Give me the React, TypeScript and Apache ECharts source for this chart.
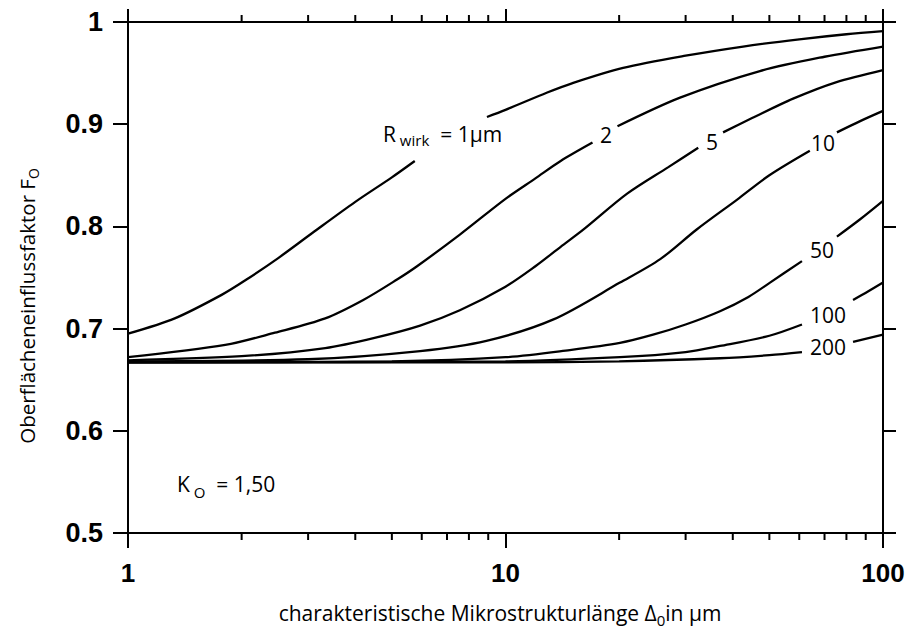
import React, { useEffect, useRef } from 'react';
import * as echarts from 'echarts';

// ---- data ----
const minorTickValues = [2, 3, 4, 5, 6, 7, 8, 9, 20, 30, 40, 50, 60, 70, 80, 90];

// R_wirk = 1 µm
const r1aX = [1, 1.33, 1.77, 2.06, 2.5, 3.09, 4, 5, 5.75];
const r1aY = [0.695, 0.71, 0.733, 0.748, 0.769, 0.794, 0.824, 0.848, 0.864];
const r1bX = [8.93, 10, 12.9, 15, 20.5, 30, 42.6, 60, 80, 100];
const r1bY = [0.907, 0.914, 0.931, 0.94, 0.955, 0.967, 0.976, 0.983, 0.988, 0.991];

// R_wirk = 2
const r2aX = [1, 1.81, 2.45, 3.33, 4.2, 5.16, 5.83, 7.57, 10, 12, 14, 17];
const r2aY = [0.672, 0.684, 0.696, 0.71, 0.728, 0.748, 0.761, 0.792, 0.827, 0.847, 0.864, 0.882];
const r2bX = [19.8, 29, 47.2, 70, 100];
const r2bY = [0.898, 0.926, 0.952, 0.966, 0.976];

// R_wirk = 5
const r5aX = [1, 2, 3.33, 4.5, 5.94, 7.57, 10, 12, 14, 16.1, 21, 27, 32.4];
const r5aY = [0.669, 0.673, 0.681, 0.691, 0.703, 0.718, 0.741, 0.761, 0.78, 0.797, 0.832, 0.858, 0.877];
const r5bX = [37.7, 45, 57.8, 75, 100];
const r5bY = [0.892, 0.906, 0.925, 0.941, 0.953];

// R_wirk = 10
const r10aX = [1, 3, 5.94, 8.9, 13.4, 20.1, 25.7, 32.1, 41, 50, 64];
const r10aY = [0.668, 0.67, 0.678, 0.688, 0.709, 0.745, 0.768, 0.797, 0.826, 0.85, 0.874];
const r10bX = [75.5, 87, 100];
const r10bY = [0.892, 0.903, 0.913];

// R_wirk = 50
const r50aX = [1, 5, 10, 14.8, 20.1, 24.6, 30, 37, 44, 50.2, 61];
const r50aY = [0.667, 0.668, 0.672, 0.679, 0.686, 0.694, 0.704, 0.717, 0.731, 0.745, 0.766];
const r50bX = [75.5, 87, 100];
const r50bY = [0.79, 0.807, 0.825];

// R_wirk = 100
const r100aX = [1, 10, 20.1, 30, 37, 50, 61];
const r100aY = [0.667, 0.668, 0.672, 0.677, 0.683, 0.693, 0.704];
const r100bX = [83.3, 91, 100];
const r100bY = [0.728, 0.736, 0.745];

// R_wirk = 200
const r200aX = [1, 10, 20, 37, 50, 61];
const r200aY = [0.667, 0.667, 0.668, 0.671, 0.674, 0.677];
const r200bX = [83.3, 100];
const r200bY = [0.687, 0.694];

const segments: [number[], number[]][] = [
  [r1aX, r1aY], [r1bX, r1bY],
  [r2aX, r2aY], [r2bX, r2bY],
  [r5aX, r5aY], [r5bX, r5bY],
  [r10aX, r10aY], [r10bX, r10bY],
  [r50aX, r50aY], [r50bX, r50bY],
  [r100aX, r100aY], [r100bX, r100bY],
  [r200aX, r200aY], [r200bX, r200bY],
];

const curveLabels = ['2', '5', '10', '50', '100', '200'];
const curveLabelPos: [number, number][] = [
  [606, 135], [712, 142], [823, 143], [822, 250], [828, 315], [828, 347],
];

const FONT = '"Open Sans", "Noto Sans", sans-serif';

function measure(text: string, size: number, family: string, weight = 'normal') {
  const ctx = document.createElement('canvas').getContext('2d')!;
  ctx.font = `${weight} ${size}px ${family}`;
  return ctx.measureText(text).width;
}

type Part = { t: string; size: number; dy?: number; fill?: string };

function richGroup(parts: Part[], x: number, y: number, opts: { center?: boolean; rotation?: number } = {}) {
  const widths = parts.map((p) => measure(p.t, p.size, FONT));
  const total = widths.reduce((a, b) => a + b, 0);
  let cx = opts.center ? -total / 2 : 0;
  const children = parts.map((p, i) => {
    const el = {
      type: 'text',
      x: cx,
      y: p.dy || 0,
      style: {
        text: p.t,
        font: `${p.size}px ${FONT}`,
        fill: p.fill || '#000',
        align: 'left',
        textAlign: 'left',
        verticalAlign: 'middle',
        textVerticalAlign: 'middle',
      },
    };
    cx += widths[i];
    return el;
  });
  return { type: 'group', x, y, rotation: opts.rotation || 0, children, silent: true };
}

export default function App() {
  const ref = useRef<HTMLDivElement>(null);
  useEffect(() => {
    document.body.style.margin = '0';
    const chart = echarts.init(ref.current!, undefined, { renderer: 'svg' });

    const lineSeries = segments.map(([xs, ys]) => ({
      type: 'line',
      xAxisIndex: 0,
      yAxisIndex: 0,
      data: xs.map((x, i) => [x, ys[i]]),
      showSymbol: false,
      symbol: 'none',
      smooth: 0.3,
      lineStyle: { color: '#000', width: 2.3 },
      silent: true,
      z: 3,
    }));

    const tickStyle = { color: '#000', width: 2 };

    const option: any = {
      animation: false,
      backgroundColor: '#fff',
      grid: { left: 128, right: 34, top: 22, bottom: 96, containLabel: false, outerBoundsMode: 'none' },
      xAxis: [
        {
          type: 'log', logBase: 10, min: 1, max: 100, position: 'bottom',
          axisLine: { show: true, lineStyle: { color: '#000', width: 2 } },
          axisTick: { show: true, length: 15, inside: false, lineStyle: tickStyle },
          axisLabel: {
            show: true, margin: 27, color: '#000', fontSize: 26, fontWeight: 'bold',
            fontFamily: '"Liberation Sans", Arial, sans-serif',
            showMinLabel: true, showMaxLabel: true,
          },
          splitLine: { show: false },
          minorTick: { show: false },
        },
        {
          type: 'log', logBase: 10, min: 1, max: 100, position: 'top',
          axisLine: { show: true, lineStyle: { color: '#000', width: 2 } },
          axisTick: { show: true, length: 13, inside: false, lineStyle: tickStyle },
          axisLabel: { show: false },
          splitLine: { show: false },
        },
      ],
      yAxis: [
        {
          type: 'value', min: 0.5, max: 1, interval: 0.1, position: 'left',
          axisLine: { show: true, lineStyle: { color: '#000', width: 2 } },
          axisTick: { show: true, length: 15, inside: false, lineStyle: tickStyle },
          axisLabel: {
            show: true, margin: 25, color: '#000', fontSize: 27, fontWeight: 'bold',
            fontFamily: '"Liberation Sans", Arial, sans-serif',
          },
          splitLine: { show: false },
        },
        {
          type: 'value', min: 0.5, max: 1, interval: 0.1, position: 'right',
          axisLine: { show: true, lineStyle: { color: '#000', width: 2 } },
          axisTick: { show: true, length: 13, inside: false, lineStyle: tickStyle },
          axisLabel: { show: false },
          splitLine: { show: false },
        },
      ],
      series: [
        ...lineSeries,
        {
          type: 'custom',
          xAxisIndex: 0,
          yAxisIndex: 0,
          clip: false,
          silent: true,
          z: 5,
          data: minorTickValues.map((v) => [v, 0.5]),
          encode: { x: 0, y: 1 },
          renderItem: (_params: any, api: any) => {
            const v = api.value(0);
            const b = api.coord([v, 0.5]);
            const t = api.coord([v, 1]);
            return {
              type: 'group',
              children: [
                { type: 'line', shape: { x1: b[0], y1: b[1], x2: b[0], y2: b[1] + 7 }, style: { stroke: '#000', lineWidth: 2 } },
                { type: 'line', shape: { x1: t[0], y1: t[1], x2: t[0], y2: t[1] - 7 }, style: { stroke: '#000', lineWidth: 2 } },
              ],
            };
          },
        },
      ],
      graphic: [
        // axis names
        richGroup(
          [
            { t: 'charakteristische Mikrostrukturlänge Δ', size: 21 },
            { t: '0', size: 15, dy: 7 },
            { t: 'in µm', size: 21 },
          ],
          500, 613, { center: true }
        ),
        richGroup(
          [
            { t: 'Oberflächeneinflussfaktor F', size: 20.5 },
            { t: 'O', size: 14, dy: 6 },
          ],
          27, 306, { center: true, rotation: Math.PI / 2 }
        ),
        // annotations
        richGroup(
          [
            { t: 'R', size: 21 },
            { t: ' wirk', size: 15, dy: 6 },
            { t: '  = 1µm', size: 21 },
          ],
          383, 134
        ),
        richGroup(
          [
            { t: 'K', size: 21 },
            { t: ' O', size: 15, dy: 8 },
            { t: '  = 1,50', size: 21 },
          ],
          177, 484
        ),
        ...curveLabels.map((txt, i) =>
          richGroup([{ t: txt, size: 21 }], curveLabelPos[i][0], curveLabelPos[i][1], { center: true })
        ),
      ],
    };
    chart.setOption(option);
    return () => chart.dispose();
  }, []);
  return <div ref={ref} style={{ width: 917, height: 629 }} />;
}
